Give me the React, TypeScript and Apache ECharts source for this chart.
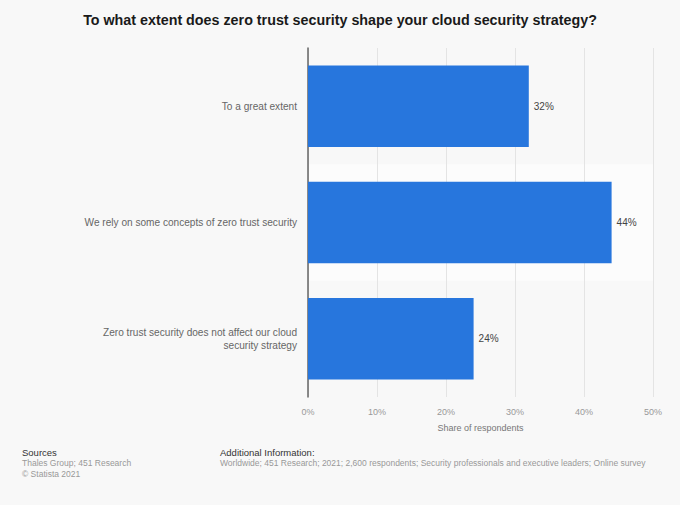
import React, { useEffect, useRef } from "react";
import * as echarts from "echarts";

const categories = [
  "To a great extent",
  "We rely on some concepts of zero trust security",
  "Zero trust security does not affect our cloud\nsecurity strategy",
];
const values = [32, 44, 24];
const xTicks = [0, 10, 20, 30, 40, 50];

const FONT = "'Liberation Sans', Arial, Helvetica, sans-serif";

export default function App() {
  const ref = useRef<HTMLDivElement>(null);
  useEffect(() => {
    document.body.style.margin = "0";
    document.body.style.background = "#f8f8f8";
    const chart = echarts.init(ref.current!, null, { renderer: "svg" });
    chart.setOption({
      animation: false,
      backgroundColor: "#f8f8f8",
      textStyle: { fontFamily: FONT },
      title: {
        text: "To what extent does zero trust security shape your cloud security strategy?",
        left: "center",
        top: 8,
        textStyle: { fontSize: 14.3, fontWeight: "bold", color: "#1a1a1a", fontFamily: FONT },
      },
      grid: { left: 308, right: 27, top: 48, bottom: 108, containLabel: false },
      xAxis: {
        type: "value",
        min: xTicks[0],
        max: xTicks[xTicks.length - 1],
        interval: 10,
        name: "Share of respondents",
        nameLocation: "middle",
        nameGap: 26,
        nameTextStyle: { fontSize: 9, color: "#777", fontFamily: FONT },
        axisLine: { show: false },
        axisTick: { show: false },
        axisLabel: { formatter: "{value}%", fontSize: 9, color: "#999", margin: 10, fontFamily: FONT },
        splitLine: { show: true, lineStyle: { color: "#e4e4e4", width: 1 } },
      },
      yAxis: {
        type: "category",
        inverse: true,
        data: categories,
        axisLine: { show: true, lineStyle: { color: "#666", width: 1.5 } },
        axisTick: { show: false },
        axisLabel: { fontSize: 10.1, color: "#666", margin: 11, lineHeight: 13, align: "right", fontFamily: FONT },
        splitLine: { show: false },
        splitArea: { show: true, areaStyle: { color: ["rgba(248,248,248,0)", "#fcfcfc"] } },
      },
      series: [
        {
          type: "bar",
          data: values,
          barWidth: "70%",
          itemStyle: { color: "#2776dd" },
          label: {
            show: true,
            position: "right",
            distance: 5,
            formatter: "{c}%",
            fontSize: 10,
            color: "#444",
            fontFamily: FONT,
          },
        },
      ],
      graphic: [
        { type: "text", left: 22, top: 447, style: { text: "Sources", fontSize: 9.5, fill: "#333", fontFamily: FONT } },
        { type: "text", left: 22, top: 458, style: { text: "Thales Group; 451 Research", fontSize: 8.5, fill: "#999", fontFamily: FONT } },
        { type: "text", left: 22, top: 469, style: { text: "© Statista 2021", fontSize: 8.5, fill: "#999", fontFamily: FONT } },
        { type: "text", left: 220, top: 447, style: { text: "Additional Information:", fontSize: 9.5, fill: "#333", fontFamily: FONT } },
        {
          type: "text",
          left: 220,
          top: 458,
          style: {
            text: "Worldwide; 451 Research; 2021; 2,600 respondents; Security professionals and executive leaders; Online survey",
            fontSize: 8.5,
            fill: "#999",
            fontFamily: FONT,
          },
        },
      ],
    });
    return () => chart.dispose();
  }, []);
  return <div ref={ref} style={{ width: 680, height: 505 }} />;
}
